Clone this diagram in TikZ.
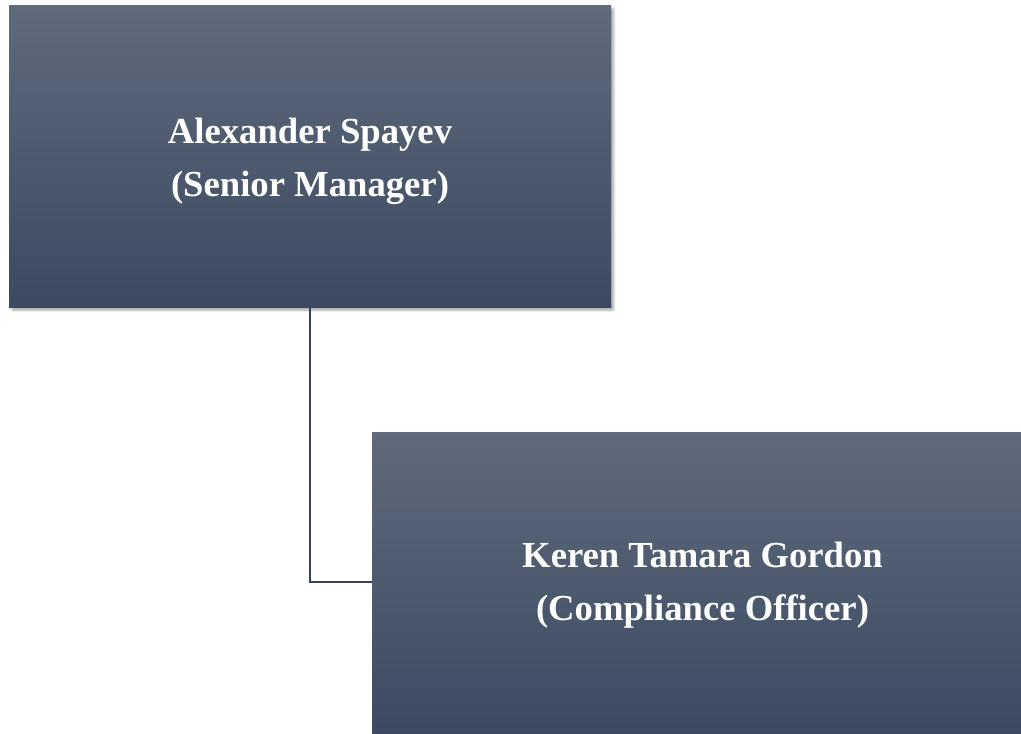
\documentclass[tikz,border=0pt]{standalone}
\usepackage{fontspec}
\setmainfont{Liberation Serif}
\usetikzlibrary{shadows.blur}
\definecolor{boxtop}{HTML}{5F6A7B}
\definecolor{boxbot}{HTML}{3C4961}
\definecolor{lineC}{HTML}{34425A}
\tikzset{
  orgbox/.style={rectangle, top color=boxtop, bottom color=boxbot, draw=none, inner sep=0pt,
    blur shadow={shadow xshift=2pt, shadow yshift=-2pt, shadow blur steps=6, shadow blur extra rounding=1pt, shadow opacity=35}},
  orgtext/.style={text=white, align=center, inner sep=0pt,
    font=\fontsize{27.5}{39.75}\selectfont\bfseries},
  conn/.style={draw=lineC, line width=1.8pt}
}
\begin{document}
\begin{tikzpicture}[x=0.75pt,y=-0.75pt]
\useasboundingbox (0,0) rectangle (1021,734);
\clip (0,0) rectangle (1021,734);
\node[orgbox, minimum width=602*0.75pt, minimum height=301.5*0.75pt] (b1) at (310,156.75) {};
\node[orgbox, minimum width=661*0.75pt, minimum height=305*0.75pt] (b2) at (702.5,585) {};
\node[orgtext] (t1) at ([yshift=-3.5pt]b1.center) {Alexander Spayev\\(Senior Manager)};
\node[orgtext] (t2) at (b2.center) {Keren Tamara Gordon\\(Compliance Officer)};
\draw[conn] (b1.south) -- (b1.south |- 0,582) coordinate (c1) -- (b2.west |- c1);
\end{tikzpicture}
\end{document}
